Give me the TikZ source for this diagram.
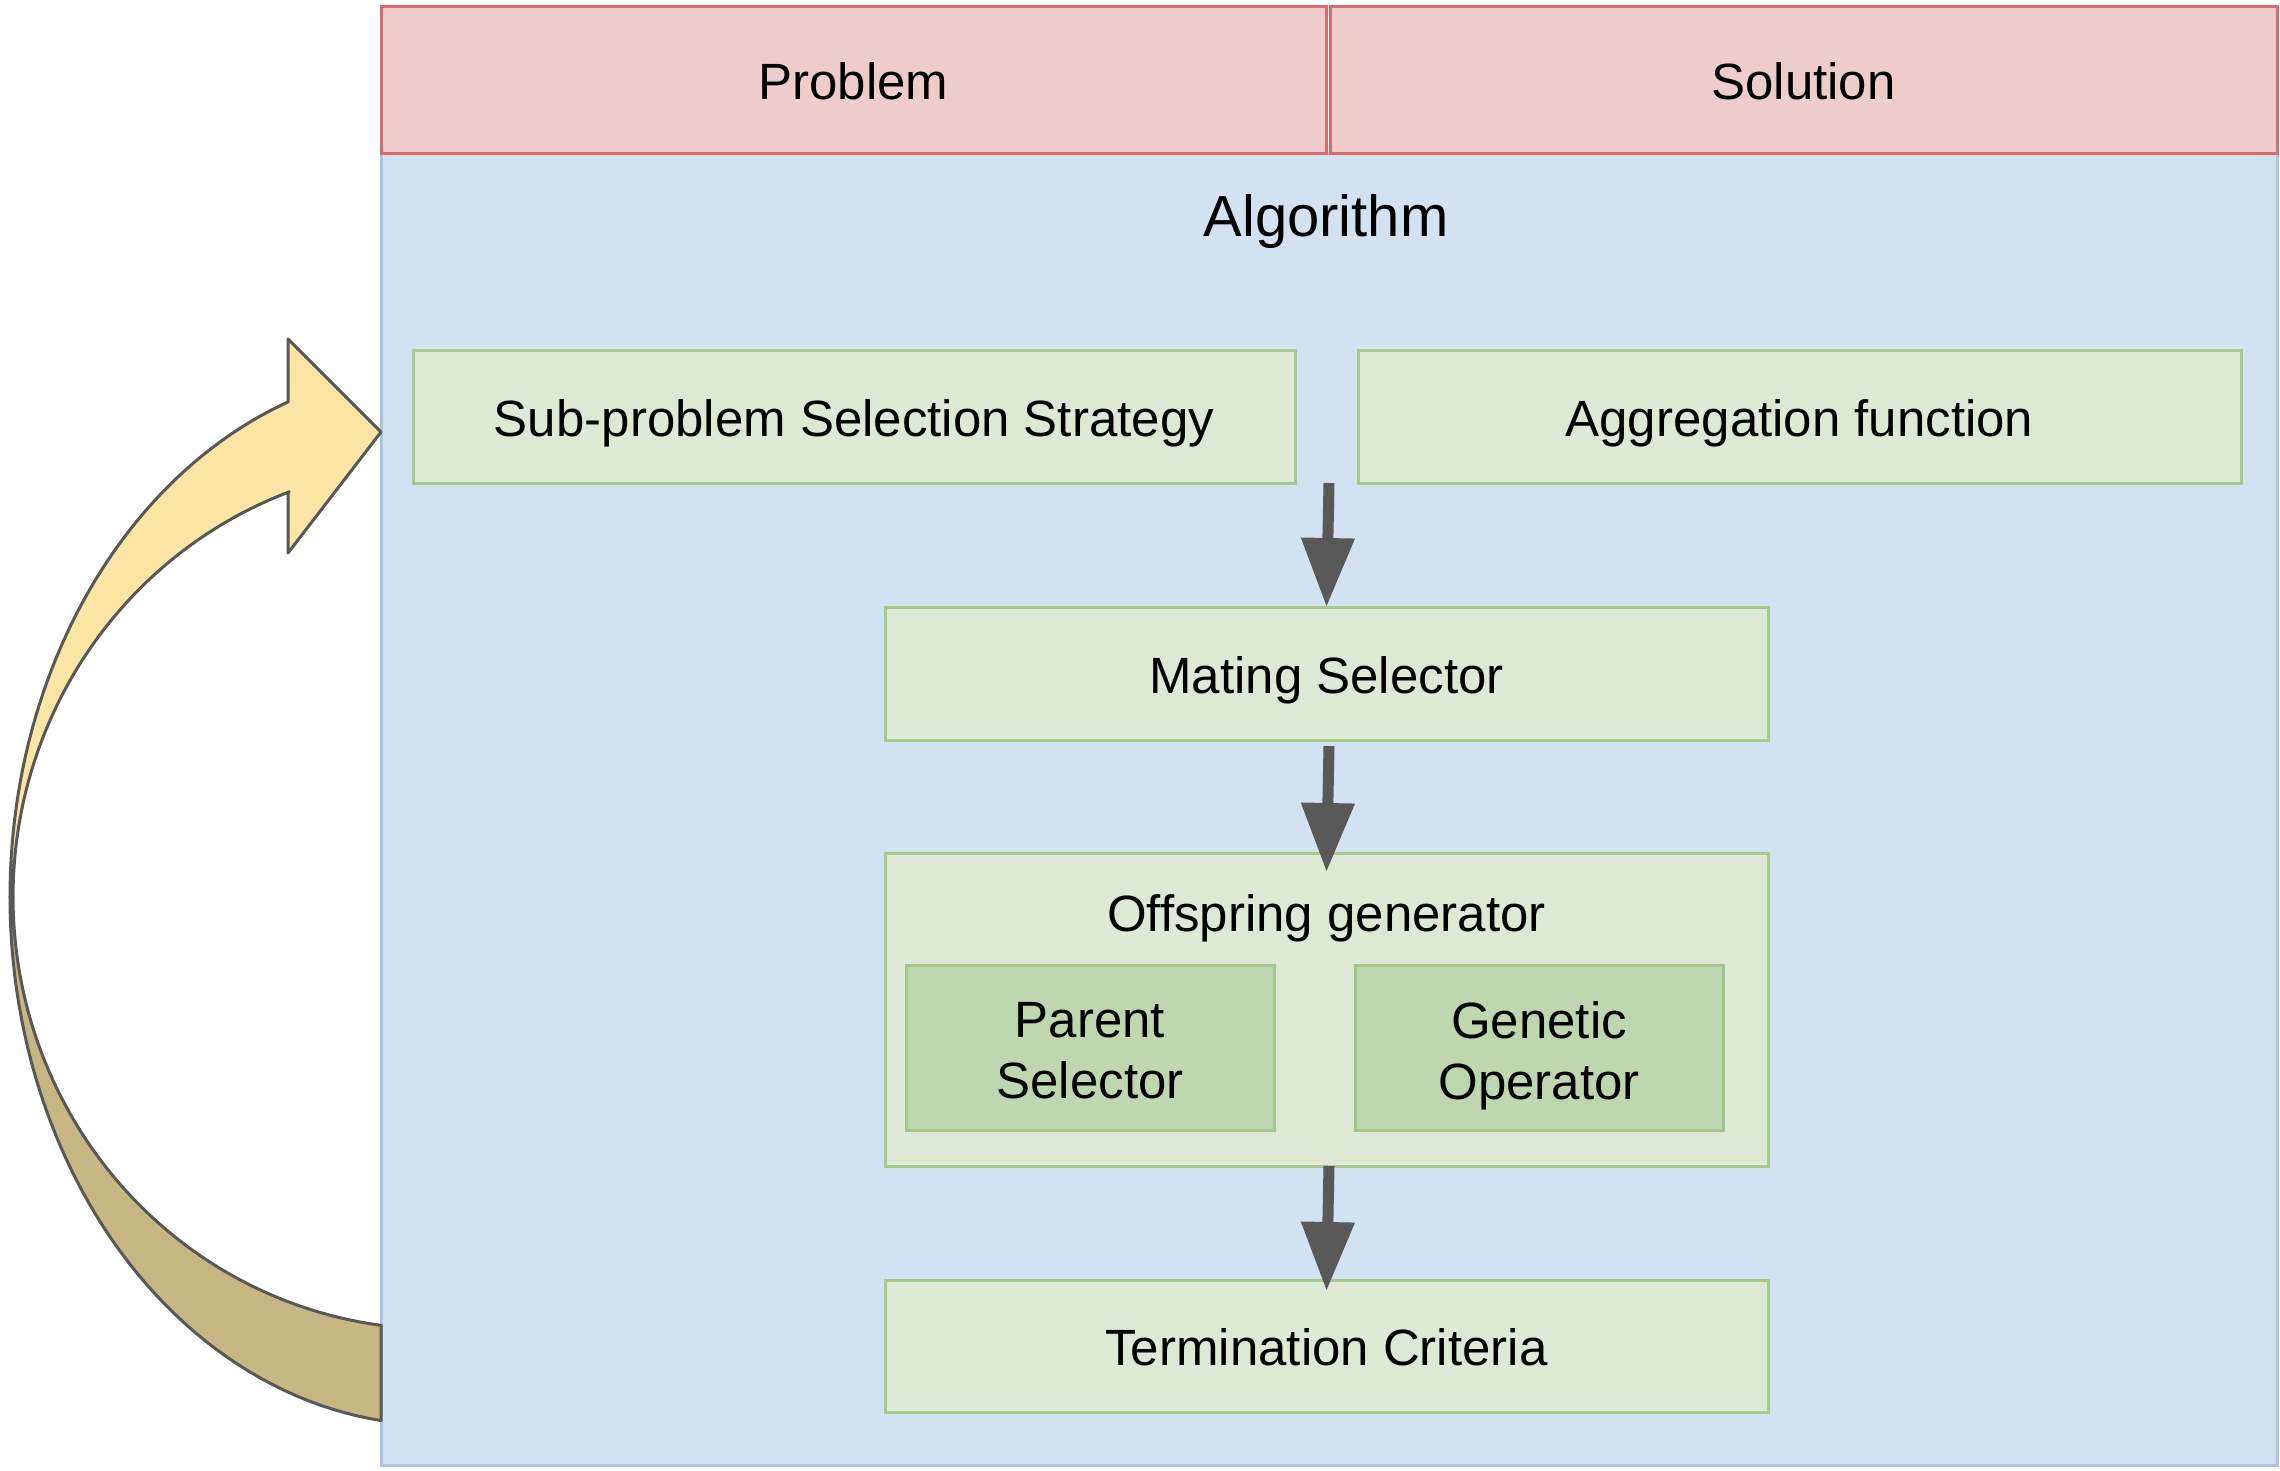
\documentclass[tikz,border=0pt]{standalone}
\usepackage{fontspec}
\setmainfont{Liberation Sans}
\usetikzlibrary{arrows.meta,calc}
\definecolor{redfill}{HTML}{EFCCCC}
\definecolor{redline}{HTML}{D76B6B}
\definecolor{bluefill}{HTML}{D2E2F1}
\definecolor{blueline}{HTML}{A9C4EA}
\definecolor{greenfill}{HTML}{DEE9D5}
\definecolor{greenline}{HTML}{A4CA8C}
\definecolor{dgreenfill}{HTML}{BFD7AE}
\definecolor{dgreenline}{HTML}{A0C78A}
\definecolor{arrowgray}{HTML}{595959}
\definecolor{yellowfill}{HTML}{FCE4A4}
\definecolor{khakifill}{HTML}{C8B682}
\definecolor{curveline}{HTML}{585858}
\tikzset{
  basefont/.style={font=\fontsize{51}{61}\selectfont},
  box/.style={basefont, draw, line width=3pt, inner sep=0pt, outer sep=0pt,
    text height=50pt, text depth=11pt},
  headerbox/.style={box, fill=redfill, draw=redline},
  algobox/.style={draw=blueline, fill=bluefill, line width=3pt, inner sep=0pt, outer sep=0pt},
  lightbox/.style={box, fill=greenfill, draw=greenline},
  darkbox/.style={draw=dgreenline, fill=dgreenfill, line width=3pt,
    inner sep=0pt, outer sep=0pt},
  bigarrow/.style={draw=arrowgray, line width=11pt, -{Triangle[width=51pt,length=69pt]}},
  curvestroke/.style={draw=curveline, line width=3pt, line join=round},
}
\begin{document}
\begin{tikzpicture}[x=1pt,y=-1pt]
\useasboundingbox (0,0) rectangle (2280,1470);
% main container
\node[algobox, minimum width=1896, minimum height=1312] (algo) at (1329,809) {};
\node[font=\fontsize{58}{70}\selectfont] (algolabel) at (1326,221) {Algorithm};
% headers
\node[headerbox, minimum width=945, minimum height=147] (prob) at (853.5,79.5) {Problem};
\node[headerbox, minimum width=947, minimum height=147] (sol) at (1803.5,79.5) {Solution};
% components
\node[lightbox, minimum width=882, minimum height=133] (sub) at (854,416.5) {Sub-problem Selection Strategy};
\node[lightbox, minimum width=883, minimum height=133] (agg) at (1799.5,416.5) {Aggregation function};
\node[lightbox, minimum width=883, minimum height=133] (mating) at (1326.5,673.5) {Mating Selector};
\node[lightbox, minimum width=883, minimum height=313] (offspring) at (1326.5,1009.5) {};
\node[basefont] (offlabel) at (1326.5,918) {Offspring generator};
\node[darkbox, minimum width=368, minimum height=165] (parent) at (1090,1047.5) {};
\node[basefont, align=center] (parentlabel) at ([shift={(0,8)}]parent.center) {Parent\\Selector\vphantom{p}};
\node[darkbox, minimum width=368, minimum height=165] (genetic) at (1539,1047.5) {};
\node[basefont, align=center] (geneticlabel) at ([shift={(0,8)}]genetic.center) {Genetic\\Operator};
\node[lightbox, minimum width=883, minimum height=132] (term) at (1326.5,1346) {Termination Criteria};
% flow arrows
\coordinate (gap) at ($(sub.south east)!0.5!(agg.south west)$);
\draw[bigarrow] ([shift={(2.5,0)}]gap) -- (mating.north);
\draw[bigarrow] ([shift={(2.5,6)}]mating.south) -- ([shift={(0,19)}]offspring.north);
\draw[bigarrow] ([shift={(2.5,0)}]offspring.south) -- ([shift={(0,11)}]term.north);
% curved loop arrow (lower, back side)
\filldraw[curvestroke, fill=khakifill]
  plot[variable=\t, domain=180:97.4, samples=50] ({436+426*cos(\t)},{897+528*sin(\t)})
  -- (381,1325)
  -- plot[variable=\t, domain=97.5:180, samples=50] ({436+423*cos(\t)},{897+432*sin(\t)})
  -- cycle;
% curved loop arrow (upper, front side with head)
\filldraw[curvestroke, fill=yellowfill]
  plot[variable=\t, domain=249.7:180, samples=50] ({436+426*cos(\t)},{897+528*sin(\t)})
  -- plot[variable=\t, domain=180:249.7, samples=50] ({436+423*cos(\t)},{897+432*sin(\t)})
  -- (288,492) -- (288,553) -- (381,432) -- (288,339) -- (288,402) -- cycle;
\end{tikzpicture}
\end{document}
